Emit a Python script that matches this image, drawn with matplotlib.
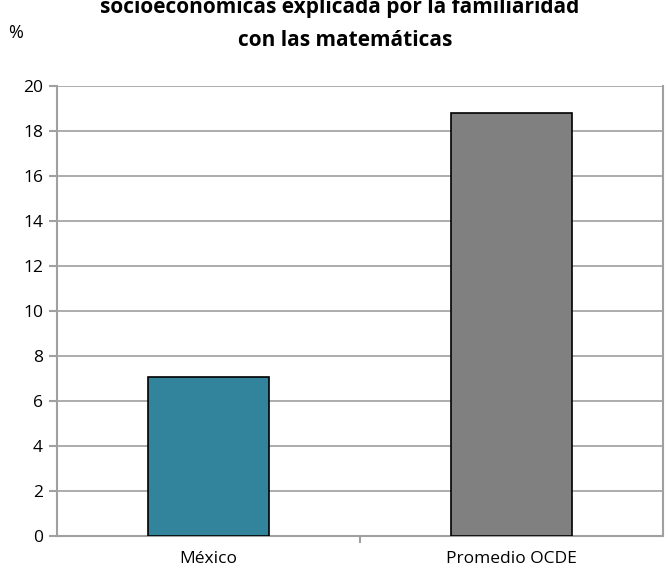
import matplotlib.pyplot as plt

categories = ['México', 'Promedio OCDE']
values = [7.05, 18.8]
colors = ['#31849b', '#808080']
yticks = [0, 2, 4, 6, 8, 10, 12, 14, 16, 18, 20]

plt.rcParams['font.family'] = ['Open Sans', 'DejaVu Sans']

fig = plt.figure(figsize=(6.68, 5.70), dpi=100)
ax = fig.add_axes([0.0853, 0.0596, 0.9072, 0.7895])

x = range(len(categories))
ax.bar(x, values, width=0.4, color=colors, edgecolor='black', linewidth=1.2, zorder=3)

ax.set_xlim(-0.5, 1.5)
ax.set_ylim(0, 20)
ax.set_yticks(yticks)
ax.set_yticklabels([str(t) for t in yticks], fontsize=12.5)
ax.set_xticks(list(x))
ax.set_xticklabels(categories, fontsize=12.5)
ax.tick_params(axis='x', length=0, pad=11)
ax.set_xticks([0.5], minor=True)
ax.tick_params(axis='x', which='minor', length=5, color='#a0a0a0', width=1.5, direction='out')
ax.tick_params(axis='y', length=6, color='#a0a0a0', width=1.5, pad=4)

ax.grid(axis='y', color='#a6a6a6', linewidth=1.3, zorder=0)
for s in ['left', 'bottom', 'right', 'top']:
    ax.spines[s].set_color('#a0a0a0')
    ax.spines[s].set_linewidth(1.5)
ax.spines['top'].set_visible(False)

fig.text(0.508, 0.9875, 'socioeconómicas explicada por la familiaridad',
         ha='center', va='center', fontsize=15, fontweight='bold')
fig.text(0.516, 0.929, 'con las matemáticas',
         ha='center', va='center', fontsize=15, fontweight='bold')
fig.text(0.023, 0.942, '%', ha='center', va='center', fontsize=13)

fig.savefig('out.png', dpi=100)
